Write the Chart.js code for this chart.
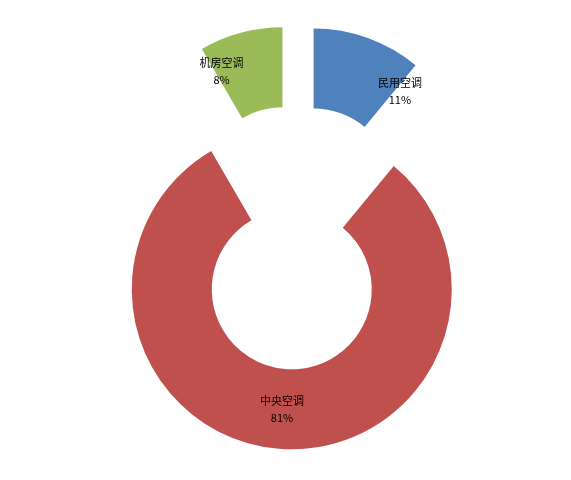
<!DOCTYPE html>
<html>
<head>
<meta charset="utf-8">
<script src="https://cdn.jsdelivr.net/npm/chart.js@4"></script>
<style>
  html, body { margin: 0; padding: 0; background: #fff; }
  #wrap { width: 571px; height: 480px; position: relative; }
</style>
</head>
<body>
<div id="wrap"><canvas id="AcChart"></canvas></div>
<script>
// 空调市场份额
var labels = ['民用空调', '中央空调', '机房空调'];
var shares = [11.0, 80.6, 8.4];
var colors = ['#4F81BD', '#C0504D', '#9BBB59'];

// 分离型圆环：每块沿中心角方向移出
var explodePlugin = {
  id: 'explode',
  afterDatasetsUpdate: function (chart, args, opts) {
    chart.getDatasetMeta(0).data.forEach(function (arc) {
      var mid = (arc.startAngle + arc.endAngle) / 2;
      arc.x += Math.cos(mid) * opts.distance;
      arc.y += Math.sin(mid) * opts.distance;
    });
  }
};

// 数据标签（名称 + 百分比）
var labelPlugin = {
  id: 'sliceLabels',
  afterDatasetsDraw: function (chart, args, opts) {
    var c = chart.ctx;
    var ds = chart.data.datasets[0];
    var total = ds.data.reduce(function (a, b) { return a + b; }, 0);
    c.save();
    c.font = opts.font;
    c.fillStyle = opts.color;
    c.textAlign = 'center';
    c.textBaseline = 'middle';
    chart.getDatasetMeta(0).data.forEach(function (arc, i) {
      var a = arc.startAngle + (arc.endAngle - arc.startAngle) * opts.angleAt[i];
      var r = arc.innerRadius + (arc.outerRadius - arc.innerRadius) * opts.radiusAt[i];
      var x = arc.x + Math.cos(a) * r;
      var y = arc.y + Math.sin(a) * r;
      var pct = Math.round(ds.data[i] / total * 100) + '%';
      c.fillText(chart.data.labels[i], x, y - opts.lineHeight / 2);
      c.fillText(pct, x, y + opts.lineHeight / 2);
    });
    c.restore();
  }
};

var ctx = document.getElementById('AcChart').getContext('2d');
var myChart = new Chart(ctx, {
  type: 'doughnut',
  data: {
    labels: labels,
    datasets: [
      {
        data: shares,
        backgroundColor: colors,
        borderWidth: 0
      }
    ]
  },
  options: {
    responsive: true,
    maintainAspectRatio: false,
    animation: false,
    events: [],
    radius: 160,
    cutout: '50%',
    layout: { padding: { left: 21, right: 0, top: 0, bottom: 5 } },
    plugins: {
      legend: { display: false },
      tooltip: { enabled: false },
      explode: { distance: 52 },
      sliceLabels: {
        font: '11px "Noto Sans CJK SC", sans-serif',
        color: '#000',
        lineHeight: 17,
        angleAt: [1.05, 0.5, 0.086],
        radiusAt: [0.625, 0.5, 0.64]
      }
    }
  },
  plugins: [explodePlugin, labelPlugin]
});
</script>
</body>
</html>
